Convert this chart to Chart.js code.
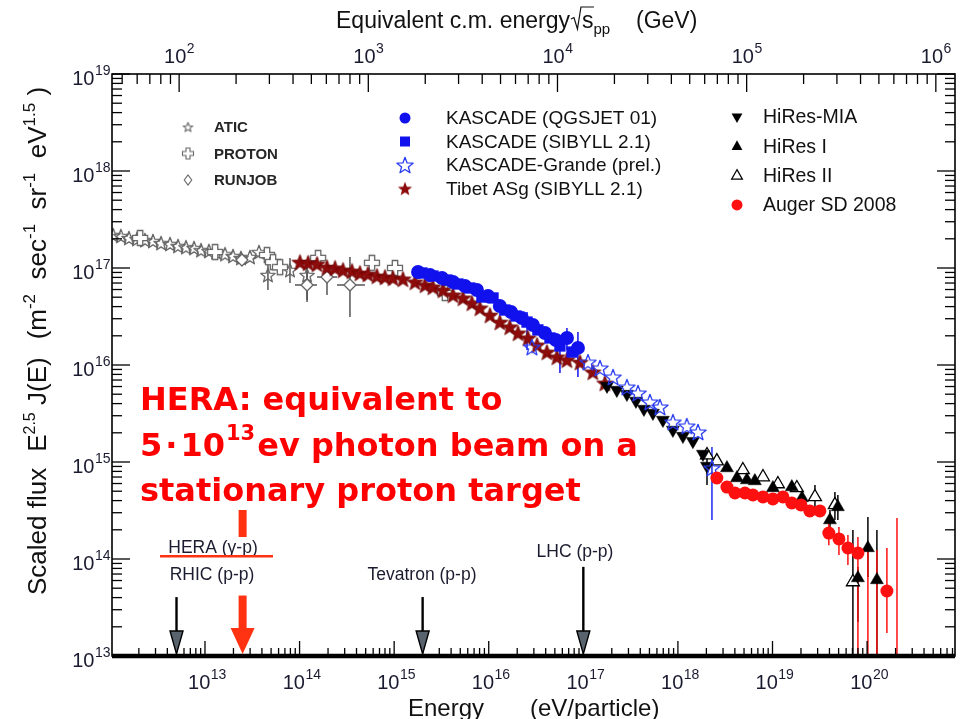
<!DOCTYPE html>
<html>
<head>
<meta charset="utf-8">
<script src="https://cdn.jsdelivr.net/npm/chart.js@4.4.1/dist/chart.umd.min.js"></script>
<style>
  html, body { margin: 0; padding: 0; background: #fff; }
  canvas { display: block; }
</style>
</head>
<body>
<canvas id="c" width="965" height="719"></canvas>
<script>
// ---------- axis ranges ----------
const E_MIN = 1.04e12, E_MAX = 8.5e20;     // energy per particle, eV
const F_MIN = 1e13, F_MAX = 1e19;          // scaled flux
const MP = 0.938;                          // proton mass, GeV
const sqrtS = e => Math.sqrt(2 * MP * e / 1e9);   // equivalent c.m. energy, GeV

const energyDecades = [13, 14, 15, 16, 17, 18, 19, 20];
const fluxDecades = [13, 14, 15, 16, 17, 18, 19];
const sqrtsDecades = [2, 3, 4, 5, 6];

// ---------- measurements ----------
const aticE = [1.07e12,1.29e12,1.57e12,1.91e12,2.32e12,2.82e12,3.43e12,4.27e12,5.19e12,6.30e12,7.66e12,9.08e12,1.10e13,1.31e13,1.63e13,1.98e13,2.40e13,2.99e13,3.72e13,4.63e13,7.92e13,1.20e14];
const aticF = [2.19e17,2.14e17,2.04e17,1.99e17,1.94e17,1.90e17,1.81e17,1.77e17,1.69e17,1.64e17,1.61e17,1.53e17,1.50e17,1.46e17,1.39e17,1.33e17,1.27e17,1.30e17,1.46e17,8.47e16,9.53e16,8.47e16];
const aticLo = [null,null,null,null,null,null,null,null,null,null,null,null,null,null,null,null,null,null,null,5.93e16,7.0e16,4.68e16];
const aticHi = [null,null,null,null,null,null,null,null,null,null,null,null,null,null,null,null,null,null,null,1.27e17,1.27e17,1.13e17];

const protonE = [2.06e12,1.28e13,4.52e13,5.23e13,6.21e13,1.57e14,5.82e14,1.02e15,3.44e15];
const protonF = [2.04e17,1.46e17,1.36e17,1.15e17,1.02e17,1.27e17,1.13e17,1.00e17,5.52e16];

const runjobE = [2.46e13,1.20e14,1.95e14,3.41e14];
const runjobF = [1.21e17,6.68e16,8.07e16,6.68e16];
const runjobLo = [null,4.46e16,5.27e16,3.13e16];
const runjobHi = [null,1.13e17,1.00e17,1.30e17];
const runjobELo = [null,8.94e13,1.53e14,2.49e14];
const runjobEHi = [null,1.53e14,2.49e14,4.91e14];

const qgsE = [1.79e15,2.39e15,3.20e15,4.19e15,5.60e15,7.50e15,9.82e15,1.31e16,1.72e16,2.24e16,2.93e16,3.93e16,5.13e16,6.71e16,8.77e16];
const qgsF = [9.10e16,8.47e16,7.89e16,7.18e16,6.52e16,5.93e16,5.14e16,4.06e16,3.52e16,3.05e16,2.58e16,2.14e16,1.81e16,1.90e16,1.50e16];
const qgsLo = [null,null,null,null,null,null,null,null,null,null,null,null,null,1.43e16,7.52e15];
const qgsHi = [null,null,null,null,null,null,null,null,null,null,null,null,null,2.41e16,2.19e16];

const sibE = [1.97e15,2.57e15,3.61e15,4.72e15,6.32e15,8.47e15,1.11e16,1.48e16,1.94e16,2.54e16,3.31e16,4.44e16,5.66e16,7.59e16];
const sibF = [8.88e16,8.27e16,7.52e16,6.84e16,6.22e16,5.02e16,4.91e16,3.69e16,3.20e16,2.77e16,2.30e16,1.90e16,1.57e16,1.36e16];
const sibLo = [null,null,null,null,null,null,null,null,null,1.43e16,null,null,8.28e15,null];
const sibHi = [null,null,null,null,null,null,null,null,null,3.52e16,null,null,1.81e16,null];

const grandeE = [2.86e16,1.12e17,1.50e17,2.06e17,2.89e17,3.78e17,5.06e17,6.45e17,8.85e17,1.24e18,1.63e18,2.29e18];
const grandeF = [1.53e16,1.07e16,9.31e15,7.52e15,5.93e15,5.14e15,4.16e15,3.69e15,2.58e15,2.35e15,2.04e15,8.67e14];
const grandeLo = [null,null,null,null,null,null,null,null,null,null,null,2.52e14];
const grandeHi = [null,null,null,null,null,null,null,null,null,null,null,1.43e15];

const tibetE = [1.01e14,1.23e14,1.53e14,1.95e14,2.37e14,2.88e14,3.58e14,4.35e14,5.28e14,6.58e14,8.00e14,9.71e14,1.24e15,1.66e15,2.12e15,2.57e15,3.28e15,4.19e15,5.34e15,6.64e15,8.07e15,1.03e16,1.31e16,1.67e16,2.04e16,2.60e16,3.24e16,4.12e16,5.26e16,6.71e16,9.21e16,1.26e17,1.69e17];
const tibetF = [1.15e17,1.13e17,1.10e17,1.02e17,1.00e17,9.53e16,9.31e16,8.88e16,8.67e16,8.27e16,8.07e16,7.89e16,7.71e16,7.18e16,6.68e16,6.37e16,5.93e16,5.27e16,4.91e16,4.36e16,3.87e16,3.27e16,2.77e16,2.47e16,2.14e16,1.90e16,1.61e16,1.36e16,1.21e16,1.13e16,1.07e16,8.47e15,6.52e15];

const miaE = [1.78e17,2.26e17,2.89e17,3.60e17,4.37e17,5.44e17,6.94e17,8.85e17,1.13e18,1.44e18,1.84e18,2.03e18];
const miaF = [6.08e15,5.52e15,5.02e15,4.26e15,3.52e15,3.20e15,2.71e15,2.14e15,1.85e15,1.64e15,1.21e15,9.10e14];
const miaLo = [null,null,null,null,null,null,null,null,null,null,null,5.79e14];
const miaHi = [null,null,null,null,null,null,null,null,null,null,null,1.33e15];

const hires1E = [3.30e18,4.21e18,5.36e18,6.51e18,1.01e19,1.60e19,2.05e19,4.05e19,4.91e19,8.00e19,1.02e20,1.27e20];
const hires1F = [8.67e14,6.84e14,6.52e14,6.37e14,5.40e14,5.52e14,4.26e14,2.52e14,3.44e14,6.37e13,1.30e14,6.08e13];
const hires1Lo = [null,null,null,null,null,null,3.36e14,1.99e14,2.52e14,2.24e13,6.52e13,5e12];
const hires1Hi = [null,null,null,null,null,null,5.14e14,3.20e14,4.57e14,8.28e13,2.71e14,1.99e14];

const hires2E = [2.03e18,2.58e18,4.86e18,7.93e18,1.14e19,1.81e19,2.81e19,4.57e19,7.08e19];
const hires2F = [1.18e15,1.02e15,8.28e14,7.0e14,5.93e14,5.40e14,4.36e14,3.61e14,5.79e13];
const hires2Lo = [null,null,null,null,null,null,3.20e14,2.52e14,5e12];
const hires2Hi = [null,null,null,null,null,null,5.79e14,4.91e14,1.99e14];

const augerE = [2.58e18,3.30e18,4.01e18,5.11e18,6.21e18,7.93e18,1.01e19,1.29e19,1.60e19,2.00e19,2.48e19,3.17e19,3.94e19,5.04e19,6.27e19,8.00e19,1.02e20,1.27e20,1.62e20,2.07e20];
const augerF = [6.84e14,5.52e14,4.79e14,4.79e14,4.57e14,4.36e14,4.16e14,4.36e14,3.78e14,3.61e14,3.13e14,3.13e14,1.85e14,1.61e14,1.30e14,1.15e14,3e12,3e12,4.68e13,3e12];
const augerLo = [null,null,null,null,null,null,null,null,null,null,null,null,1.39e14,1.10e14,8.67e13,3e12,3e12,3e12,1.73e13,3e12];
const augerHi = [null,null,null,null,null,null,null,null,null,null,null,null,2.35e14,2.14e14,1.77e14,1.69e14,1.30e14,1.24e14,1.30e14,2.65e14];

// accelerator equivalents
const beamNames = ['RHIC (p-p)', 'Tevatron (p-p)', 'LHC (p-p)'];
const beamE = [5e12, 2e15, 1e17];
const beamTop = [4.05e13, 4.05e13, 8.3e13];
const heraE = 2.5e13;
const heraTop = 4.2e13;

// ---------- marker sprites ----------
function starSprite(r, fill, stroke, lw) {
  const s = Math.ceil(2 * r + lw + 3);
  const c = document.createElement('canvas');
  c.width = c.height = s;
  const g = c.getContext('2d');
  const cx = s / 2, cy = s / 2 + r * 0.1;
  g.beginPath();
  for (let i = 0; i < 10; i++) {
    const a = -Math.PI / 2 + i * Math.PI / 5;
    const rr = i % 2 ? r * 0.42 : r;
    g.lineTo(cx + rr * Math.cos(a), cy + rr * Math.sin(a));
  }
  g.closePath();
  if (fill) { g.fillStyle = fill; g.fill(); }
  if (stroke) { g.strokeStyle = stroke; g.lineWidth = lw; g.lineJoin = 'round'; g.stroke(); }
  return c;
}
function crossSprite(r, stroke, lw) {
  const s = Math.ceil(2 * r + lw + 3);
  const c = document.createElement('canvas');
  c.width = c.height = s;
  const g = c.getContext('2d');
  const o = s / 2, a = r, b = r * 0.36;
  const pts = [[-b,-a],[b,-a],[b,-b],[a,-b],[a,b],[b,b],[b,a],[-b,a],[-b,b],[-a,b],[-a,-b],[-b,-b]];
  g.beginPath();
  pts.forEach(p => g.lineTo(o + p[0], o + p[1]));
  g.closePath();
  g.fillStyle = '#fff'; g.fill();
  g.strokeStyle = stroke; g.lineWidth = lw; g.stroke();
  return c;
}

const GREY = '#666666', BLUE = '#1111ee', DARKRED = '#8e0b0b', RED = '#ff1010';
const aticStar = starSprite(7.5, null, GREY, 1.3);
const protonCross = crossSprite(7.5, GREY, 1.3);
const grandeStar = starSprite(8.5, null, '#2a3cf0', 1.3);
const tibetStar = starSprite(8.5, DARKRED, '#6a0000', 0.8);

const pts = (E, F) => E.map((e, i) => ({ x: e, y: F[i] }));

const datasets = [
  { label: 'ATIC', data: pts(aticE, aticF), pointStyle: aticStar, pointRadius: 7, order: 10,
    errLo: aticLo, errHi: aticHi, errColor: '#555' },
  { label: 'PROTON', data: pts(protonE, protonF), pointStyle: protonCross, pointRadius: 7, order: 9 },
  { label: 'RUNJOB', data: pts(runjobE, runjobF), pointStyle: 'rectRot', pointRadius: 6,
    pointBackgroundColor: '#fff', pointBorderColor: GREY, pointBorderWidth: 1.3, order: 8,
    errLo: runjobLo, errHi: runjobHi, errELo: runjobELo, errEHi: runjobEHi, errColor: '#555' },
  { label: 'KASCADE (QGSJET 01)', data: pts(qgsE, qgsF), pointStyle: 'circle', pointRadius: 7,
    pointBackgroundColor: BLUE, pointBorderColor: BLUE, pointBorderWidth: 0, order: 5,
    errLo: qgsLo, errHi: qgsHi, errColor: BLUE },
  { label: 'KASCADE (SIBYLL 2.1)', data: pts(sibE, sibF), pointStyle: 'rect', pointRadius: 8,
    pointBackgroundColor: BLUE, pointBorderColor: BLUE, pointBorderWidth: 0, order: 6,
    errLo: sibLo, errHi: sibHi, errColor: BLUE },
  { label: 'KASCADE-Grande (prel.)', data: pts(grandeE, grandeF), pointStyle: grandeStar, pointRadius: 8, order: 2,
    errLo: grandeLo, errHi: grandeHi, errColor: '#1a2cf0' },
  { label: 'Tibet ASg (SIBYLL 2.1)', data: pts(tibetE, tibetF), pointStyle: tibetStar, pointRadius: 8, order: 7 },
  { label: 'HiRes-MIA', data: pts(miaE, miaF), pointStyle: 'triangle', pointRotation: 180, pointRadius: 7.5,
    pointBackgroundColor: '#000', pointBorderColor: '#000', pointBorderWidth: 0.5, order: 3,
    errLo: miaLo, errHi: miaHi, errColor: '#000' },
  { label: 'HiRes I', data: pts(hires1E, hires1F), pointStyle: 'triangle', pointRadius: 7.5,
    pointBackgroundColor: '#000', pointBorderColor: '#000', pointBorderWidth: 0.5, order: 3,
    errLo: hires1Lo, errHi: hires1Hi, errColor: '#000' },
  { label: 'HiRes II', data: pts(hires2E, hires2F), pointStyle: 'triangle', pointRadius: 7.5,
    pointBackgroundColor: '#fff', pointBorderColor: '#000', pointBorderWidth: 1.3, order: 4,
    errLo: hires2Lo, errHi: hires2Hi, errColor: '#000' },
  { label: 'Auger SD 2008', data: pts(augerE, augerF), pointStyle: 'circle', pointRadius: 6.5,
    pointBackgroundColor: RED, pointBorderColor: RED, pointBorderWidth: 0, order: 1,
    errLo: augerLo, errHi: augerHi, errColor: RED }
];

// ---------- helpers ----------
const SANS = '"Liberation Sans", Arial, Helvetica, sans-serif';
function line(ctx, x1, y1, x2, y2) {
  ctx.beginPath(); ctx.moveTo(x1, y1); ctx.lineTo(x2, y2); ctx.stroke();
}
function logTicks(lo, hi) {
  const out = [];
  for (let d = Math.floor(Math.log10(lo)); d <= Math.ceil(Math.log10(hi)); d++) {
    for (let m = 1; m <= 9; m++) {
      const v = m * Math.pow(10, d);
      if (v >= lo * 0.9999 && v <= hi * 1.0001) out.push({ v, major: m === 1 });
    }
  }
  return out;
}
// "10" with a raised exponent; align: 'center' or 'right'
function powLabel(ctx, x, baseY, exp, align, big, small, rise) {
  ctx.font = big + 'px ' + SANS;
  const w1 = ctx.measureText('10').width;
  ctx.font = small + 'px ' + SANS;
  const w2 = ctx.measureText(String(exp)).width;
  const start = align === 'right' ? x - w1 - w2 : x - (w1 + w2) / 2;
  ctx.textAlign = 'left';
  ctx.textBaseline = 'alphabetic';
  ctx.font = big + 'px ' + SANS;
  ctx.fillText('10', start, baseY);
  ctx.font = small + 'px ' + SANS;
  ctx.fillText(String(exp), start + w1 + 0.5, baseY - rise);
}
// draws a run of [text, size, rise] pieces left to right, returns the end x
function textRun(ctx, x, y, pieces) {
  ctx.textAlign = 'left';
  ctx.textBaseline = 'alphabetic';
  for (const [t, size, rise, weight] of pieces) {
    ctx.font = (weight || '') + ' ' + size + 'px ' + SANS;
    ctx.fillText(t, x, y - (rise || 0));
    x += ctx.measureText(t).width;
  }
  return x;
}
function drawMarker(ctx, style, x, y) {
  ctx.save();
  if (style.img) {
    ctx.drawImage(style.img, x - style.img.width / 2, y - style.img.height / 2);
  } else {
    const r = style.r;
    ctx.fillStyle = style.fill || 'transparent';
    ctx.strokeStyle = style.stroke || style.fill;
    ctx.lineWidth = style.lw || 1;
    ctx.beginPath();
    if (style.shape === 'circle') ctx.arc(x, y, r, 0, Math.PI * 2);
    else if (style.shape === 'rect') ctx.rect(x - r, y - r, 2 * r, 2 * r);
    else if (style.shape === 'diamond') { ctx.moveTo(x, y - r); ctx.lineTo(x + r * 0.75, y); ctx.lineTo(x, y + r); ctx.lineTo(x - r * 0.75, y); ctx.closePath(); }
    else if (style.shape === 'up') { ctx.moveTo(x, y - r); ctx.lineTo(x + r * 0.9, y + r * 0.6); ctx.lineTo(x - r * 0.9, y + r * 0.6); ctx.closePath(); }
    else if (style.shape === 'down') { ctx.moveTo(x, y + r); ctx.lineTo(x + r * 0.9, y - r * 0.6); ctx.lineTo(x - r * 0.9, y - r * 0.6); ctx.closePath(); }
    if (style.fill) ctx.fill();
    if (style.stroke) ctx.stroke();
  }
  ctx.restore();
}

// ---------- plugins ----------
const errorBars = {
  id: 'errorBars',
  beforeDatasetsDraw(chart) {
    const { ctx, chartArea: a, scales: { x, y } } = chart;
    ctx.save();
    ctx.beginPath();
    ctx.rect(a.left, a.top, a.right - a.left, a.bottom - a.top);
    ctx.clip();
    chart.data.datasets.forEach(d => {
      if (!d.errLo) return;
      ctx.strokeStyle = d.errColor;
      ctx.lineWidth = 1.5;
      d.data.forEach((p, i) => {
        const px = x.getPixelForValue(p.x), py = y.getPixelForValue(p.y);
        if (d.errLo[i] != null) line(ctx, px, y.getPixelForValue(d.errLo[i]), px, y.getPixelForValue(d.errHi[i]));
        if (d.errELo && d.errELo[i] != null) line(ctx, x.getPixelForValue(d.errELo[i]), py, x.getPixelForValue(d.errEHi[i]), py);
      });
    });
    ctx.restore();
  }
};

const LEGEND = [
  { col: 0, label: 'ATIC', m: { img: starSprite(5, null, GREY, 1.1) } },
  { col: 0, label: 'PROTON', m: { img: crossSprite(5.5, GREY, 1.1) } },
  { col: 0, label: 'RUNJOB', m: { shape: 'diamond', r: 5, stroke: GREY, lw: 1.1 } },
  { col: 1, label: 'KASCADE (QGSJET 01)', m: { shape: 'circle', r: 5.5, fill: BLUE } },
  { col: 1, label: 'KASCADE (SIBYLL 2.1)', m: { shape: 'rect', r: 5, fill: BLUE } },
  { col: 1, label: 'KASCADE-Grande (prel.)', m: { img: starSprite(8.5, null, '#2a3cf0', 1.3) } },
  { col: 1, label: 'Tibet ASg (SIBYLL 2.1)', m: { img: starSprite(7.5, DARKRED, null, 0) } },
  { col: 2, label: 'HiRes-MIA', m: { shape: 'down', r: 6, fill: '#000' } },
  { col: 2, label: 'HiRes I', m: { shape: 'up', r: 6, fill: '#000' } },
  { col: 2, label: 'HiRes II', m: { shape: 'up', r: 6, fill: '#fff', stroke: '#000', lw: 1.2 } },
  { col: 2, label: 'Auger SD 2008', m: { shape: 'circle', r: 5.5, fill: RED } }
];
const LEGEND_COLS = [
  { mx: 188, tx: 214, y0: 127, dy: 26.5, font: 'bold 15px ' + SANS, color: '#262626' },
  { mx: 405, tx: 446, y0: 118, dy: 23.5, font: '19px ' + SANS, color: '#111' },
  { mx: 737, tx: 763, y0: 117, dy: 29.3, font: '19.5px ' + SANS, color: '#111' }
];

const frame = {
  id: 'frame',
  afterDraw(chart) {
    const { ctx, chartArea: a, scales: { x, x2, y } } = chart;
    ctx.save();
    ctx.strokeStyle = '#000';
    ctx.lineCap = 'butt';

    // box
    ctx.lineWidth = 1.6;
    ctx.strokeRect(a.left, a.top, a.right - a.left, a.bottom - a.top);
    ctx.lineWidth = 4.5;
    line(ctx, a.left, a.bottom, a.right, a.bottom);

    // inward ticks
    ctx.lineWidth = 1.3;
    for (const t of logTicks(E_MIN, E_MAX)) {
      const px = x.getPixelForValue(t.v);
      line(ctx, px, a.bottom, px, a.bottom - (t.major ? 15 : 8));
    }
    for (const t of logTicks(x2.min, x2.max)) {
      const px = x2.getPixelForValue(t.v);
      line(ctx, px, a.top, px, a.top + (t.major ? 18 : 10));
    }
    for (const t of logTicks(F_MIN, F_MAX)) {
      const py = y.getPixelForValue(t.v);
      const len = t.major ? 18 : 10;
      line(ctx, a.left, py, a.left + len, py);
      line(ctx, a.right, py, a.right - len, py);
    }

    // tick labels
    ctx.fillStyle = '#1a1a30';
    energyDecades.forEach(d => powLabel(ctx, x.getPixelForValue(Math.pow(10, d)) + 2, 689, d, 'center', 20, 14, 10));
    fluxDecades.forEach(d => powLabel(ctx, 110, y.getPixelForValue(Math.pow(10, d)) + 11, d, 'right', 20, 14, 10));
    sqrtsDecades.forEach(d => powLabel(ctx, x2.getPixelForValue(Math.pow(10, d)), 63, d, 'center', 20, 14, 10));

    // axis titles
    ctx.fillStyle = '#111';
    textRun(ctx, 408, 716, [['Energy', 24]]);
    textRun(ctx, 530, 716, [['(eV/particle)', 24]]);

    let tx = textRun(ctx, 336, 28, [['Equivalent c.m. energy', 23]]);
    // radical sign over s
    ctx.lineWidth = 1.2;
    ctx.strokeStyle = '#111';
    ctx.beginPath();
    ctx.moveTo(tx + 1, 19); ctx.lineTo(tx + 4, 17.5); ctx.lineTo(tx + 7.5, 29); ctx.lineTo(tx + 11, 7); ctx.lineTo(tx + 24, 7);
    ctx.stroke();
    tx = textRun(ctx, tx + 12, 28, [['s', 23]]);
    textRun(ctx, tx, 34, [['pp', 15]]);
    textRun(ctx, 636, 28, [['(GeV)', 23]]);

    ctx.save();
    ctx.translate(46, 595);
    ctx.rotate(-Math.PI / 2);
    let yx = textRun(ctx, 0, 0, [['Scaled flux', 26]]);
    yx = textRun(ctx, yx + 16, 0, [['E', 26], ['2.5', 16, 11], [' J(E)', 26]]);
    textRun(ctx, yx + 18, 0, [['(m', 26], ['-2', 17, 11], ['  sec', 26], ['-1', 17, 11], ['  sr', 26], ['-1', 17, 11], ['  eV', 26], ['1.5', 17, 11], [' )', 26]]);
    ctx.restore();

    // legend
    LEGEND.forEach(item => {
      const col = LEGEND_COLS[item.col];
      const row = LEGEND.filter(l => l.col === item.col).indexOf(item);
      const yy = col.y0 + row * col.dy;
      drawMarker(ctx, item.m, col.mx, yy);
      ctx.font = col.font;
      ctx.fillStyle = col.color;
      ctx.textAlign = 'left';
      ctx.textBaseline = 'middle';
      ctx.fillText(item.label, col.tx, yy + 1);
    });

    // accelerator arrows
    const tip = a.bottom - 2;
    beamE.forEach((e, i) => {
      const px = x.getPixelForValue(e);
      const top = y.getPixelForValue(beamTop[i]);
      ctx.strokeStyle = '#000';
      ctx.lineWidth = 2.4;
      line(ctx, px, top, px, tip - 20);
      ctx.beginPath();
      ctx.moveTo(px - 6.5, tip - 23); ctx.lineTo(px + 6.5, tip - 23); ctx.lineTo(px, tip); ctx.closePath();
      ctx.fillStyle = '#58636e'; ctx.fill();
      ctx.lineWidth = 1.4; ctx.stroke();
    });
    ctx.fillStyle = '#1c1c30';
    ctx.font = '17.5px ' + SANS;
    ctx.textAlign = 'center';
    ctx.textBaseline = 'alphabetic';
    ctx.fillText(beamNames[0], 212, 580);
    ctx.fillText(beamNames[1], 422, 580);
    ctx.fillText(beamNames[2], 575, 557);
    ctx.fillText('HERA (\u03b3-p)', 213, 553);

    // HERA equivalent
    const HERA = '#ff3311';
    const hx = x.getPixelForValue(heraE);
    ctx.fillStyle = HERA;
    ctx.fillRect(hx - 4, 510, 8, 27);
    ctx.fillRect(160, 555, 113, 2.5);
    const hTop = y.getPixelForValue(heraTop);
    ctx.fillRect(hx - 4, hTop, 8, tip - 25 - hTop);
    ctx.beginPath();
    ctx.moveTo(hx - 12, tip - 26); ctx.lineTo(hx + 12, tip - 26); ctx.lineTo(hx, tip); ctx.closePath();
    ctx.fill();

    // annotation text
    const NOTE = '"Comic Sans MS", "DejaVu Sans", sans-serif';
    ctx.fillStyle = '#ff0000';
    ctx.textAlign = 'left';
    ctx.textBaseline = 'alphabetic';
    ctx.font = 'bold 32px ' + NOTE;
    ctx.fillText('HERA: equivalent to', 140, 410);
    let nx = 140;
    ctx.fillText('5', nx, 456);
    nx += ctx.measureText('5').width + 3;
    ctx.fillText('\u00b7', nx, 456);
    nx += ctx.measureText('\u00b7').width + 3;
    ctx.fillText('10', nx, 456);
    nx += ctx.measureText('10').width;
    ctx.font = 'bold 21px ' + NOTE;
    ctx.fillText('13', nx + 1, 440);
    nx += ctx.measureText('13').width + 3;
    ctx.font = 'bold 32px ' + NOTE;
    ctx.fillText('ev photon beam on a', nx, 456);
    ctx.fillText('stationary proton target', 140, 501);

    ctx.restore();
  }
};

new Chart(document.getElementById('c'), {
  type: 'scatter',
  data: { datasets },
  options: {
    responsive: false,
    animation: false,
    devicePixelRatio: 1,
    events: [],
    layout: { padding: { left: 112, top: 74, right: 10, bottom: 63 } },
    plugins: { legend: { display: false }, tooltip: { enabled: false } },
    scales: {
      x: { type: 'logarithmic', position: 'bottom', min: E_MIN, max: E_MAX, bounds: 'data', display: false },
      x2: { type: 'logarithmic', axis: 'x', position: 'top', min: sqrtS(E_MIN), max: sqrtS(E_MAX), bounds: 'data', display: false },
      y: { type: 'logarithmic', position: 'left', min: F_MIN, max: F_MAX, bounds: 'data', display: false }
    }
  },
  plugins: [errorBars, frame]
});
</script>
</body>
</html>
